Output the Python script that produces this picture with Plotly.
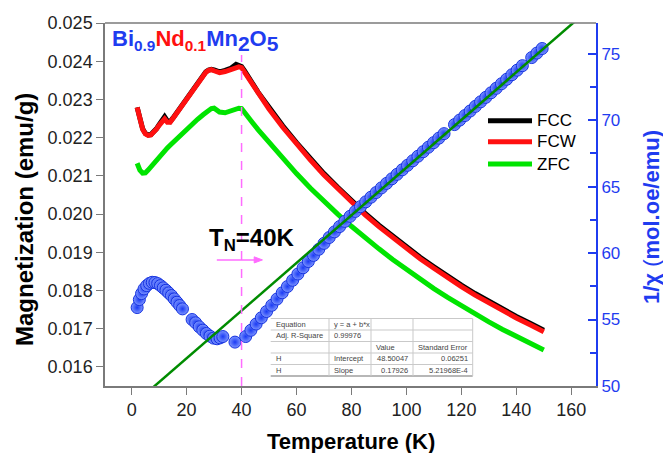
import plotly.graph_objects as go

# ---------------- data ----------------
# Magnetization vs temperature (emu/g)
temp_m = [2, 3, 4, 5, 6, 7, 8, 9, 10, 11, 12, 13, 14, 15, 16, 18, 20, 22, 24, 26, 27, 28, 29,
          30, 31, 32, 34, 36, 38, 39, 40, 41, 42, 44, 46, 48, 50, 55, 60, 65, 70, 75, 80, 85,
          90, 95, 100, 105, 110, 115, 120, 125, 130, 135, 140, 145, 150]

m_fcc = [0.02279, 0.02246, 0.02223, 0.02211, 0.02207, 0.02208, 0.02214, 0.02223, 0.02234,
         0.02245, 0.02255, 0.02244, 0.02242, 0.02251, 0.02261, 0.02278, 0.02299, 0.02321,
         0.02343, 0.02363, 0.02372, 0.02377, 0.02379, 0.02377, 0.02373, 0.02372, 0.02376,
         0.02381, 0.02392, 0.02390, 0.02386, 0.02376, 0.02364, 0.02341, 0.02319, 0.02299,
         0.02279, 0.02231, 0.02187, 0.02146, 0.02106, 0.02070, 0.02035, 0.02002, 0.01971,
         0.01942, 0.01914, 0.01887, 0.01862, 0.01837, 0.01814, 0.01792, 0.01771, 0.01751,
         0.01732, 0.01714, 0.01696]

m_fcw = [0.02279, 0.02245, 0.02222, 0.02210, 0.02206, 0.02207, 0.02213, 0.02222, 0.02232,
         0.02241, 0.02249, 0.02240, 0.02240, 0.02250, 0.02260, 0.02277, 0.02298, 0.02320,
         0.02342, 0.02362, 0.02371, 0.02376, 0.02378, 0.02375, 0.02371, 0.02370, 0.02373,
         0.02377, 0.02382, 0.02385, 0.02383, 0.02372, 0.02360, 0.02337, 0.02315, 0.02295,
         0.02275, 0.02227, 0.02183, 0.02142, 0.02102, 0.02066, 0.02031, 0.01998, 0.01967,
         0.01938, 0.01910, 0.01883, 0.01858, 0.01833, 0.01810, 0.01788, 0.01767, 0.01747,
         0.01728, 0.01710, 0.01692]

m_zfc = [0.02133, 0.02115, 0.02107, 0.02108, 0.02115, 0.02124, 0.02133, 0.02141, 0.02150,
         0.02158, 0.02166, 0.02173, 0.02180, 0.02187, 0.02194, 0.02210, 0.02224, 0.02236,
         0.02248, 0.02260, 0.02266, 0.02272, 0.02276, 0.02277, 0.02272, 0.02267, 0.02265,
         0.02270, 0.02275, 0.02277, 0.02276, 0.02268, 0.02258, 0.02239, 0.02221, 0.02204,
         0.02186, 0.02145, 0.02106, 0.02068, 0.02033, 0.02000, 0.01968, 0.01937, 0.01909,
         0.01881, 0.01855, 0.01829, 0.01805, 0.01782, 0.01760, 0.01738, 0.01718, 0.01698,
         0.01679, 0.01661, 0.01644]

# Inverse susceptibility 1/chi (mol.Oe/emu)
temp_inv = [2.0, 2.8, 3.6, 4.5, 5.5, 6.5, 7.5, 8.5, 9.5, 10.5, 11.5, 12.5, 13.5, 14.5, 15.5,
            16.5, 17.5, 18.5,
            22.0, 23.3, 24.6, 25.9, 27.2, 28.5, 29.8, 31.1, 32.2, 33.2,
            37.6,
            41.5, 43.4, 45.3, 47.2, 49.1, 51.0, 52.9, 54.8, 56.7, 58.6, 60.5, 62.4, 64.3,
            66.2, 68.1, 70.0, 71.9, 73.8, 75.7, 77.6, 79.5, 81.4, 83.3, 85.2, 87.1, 89.0,
            90.9, 92.8, 94.7, 96.6, 98.5, 100.4, 102.3, 104.2, 106.1, 108.0, 109.9, 111.8,
            113.7,
            117.5, 119.4, 121.3, 123.2, 125.1, 127.0, 128.9, 130.8, 132.7, 134.6, 136.5,
            138.4, 140.3, 142.2,
            145.6, 147.5, 149.4]

inv_chi = [55.90, 56.50, 56.95, 57.30, 57.55, 57.72, 57.80, 57.78, 57.70, 57.55, 57.38,
           57.20, 57.00, 56.80, 56.55, 56.30, 56.05, 55.80,
           55.00, 54.75, 54.45, 54.20, 53.95, 53.75, 53.60, 53.55, 53.62, 53.72,
           53.30,
           53.72, 54.19, 54.66, 55.13, 55.60, 56.07, 56.54, 57.01, 57.48, 57.95, 58.42,
           58.89, 59.36, 59.82, 60.28, 60.73, 61.17, 61.59, 61.99, 62.38, 62.76, 63.13,
           63.49, 63.85, 64.20, 64.55, 64.90, 65.24, 65.58, 65.92, 66.26, 66.60, 66.94,
           67.28, 67.62, 67.96, 68.30, 68.64, 68.98,
           69.66, 70.00, 70.34, 70.68, 71.03, 71.37, 71.71, 72.05, 72.39, 72.73, 73.07,
           73.41, 73.75, 74.09,
           74.70, 75.04, 75.38]

# Linear (Curie-Weiss) fit y = a + b*x
fit_intercept = 48.50047
fit_intercept_err = 0.06251
fit_slope = 0.17926
fit_slope_err = 5.21968e-4
fit_adj_r2 = 0.99976
fit_temp = [-10, 170]

t_neel = 40

x_ticks = [0, 20, 40, 60, 80, 100, 120, 140, 160]
y_ticks = [0.016, 0.017, 0.018, 0.019, 0.020, 0.021, 0.022, 0.023, 0.024, 0.025]
y2_ticks = [50, 55, 60, 65, 70, 75]

# ---------------- style ----------------
FONT = "Liberation Sans, Arial, sans-serif"
BLUE = "#1f3cf0"
RED = "#ff1010"
BLACK = "#000000"
LIME = "#00e400"
FIT_GREEN = "#008c00"
MAGENTA = "#ff6cff"
AXIS_GREY = "#7a7a7a"
TEXT = "#222222"

L, R, T, B = 105, 67, 23, 67
W, H = 663, 453
PW, PH = W - L - R, H - T - B


def px(x):
    return (x - L) / PW


def py(y):
    return (H - B - y) / PH


fig = go.Figure()

# magnetization curves
fig.add_trace(go.Scatter(x=temp_m, y=m_fcc, mode="lines", name="FCC",
                         line=dict(color=BLACK, width=5)))
fig.add_trace(go.Scatter(x=temp_m, y=m_fcw, mode="lines", name="FCW",
                         line=dict(color=RED, width=5)))
fig.add_trace(go.Scatter(x=temp_m, y=m_zfc, mode="lines", name="ZFC",
                         line=dict(color=LIME, width=5)))

# inverse susceptibility and its linear fit
fig.add_trace(go.Scatter(x=temp_inv, y=inv_chi, mode="markers", name="1/chi", yaxis="y2",
                         marker=dict(size=12, color="#7d95ff",
                                     gradient=dict(type="radial", color="#1a3af4"),
                                     line=dict(color="#1532e0", width=1))))
fit_vals = [fit_intercept + fit_slope * t for t in fit_temp]
fig.add_trace(go.Scatter(x=fit_temp, y=fit_vals, mode="lines", name="fit", yaxis="y2",
                         line=dict(color=FIT_GREEN, width=2.5)))

shapes = []
annotations = []

# top frame line
shapes.append(dict(type="line", xref="paper", yref="paper", x0=0, x1=1, y0=1, y1=1,
                   line=dict(color=AXIS_GREY, width=1.5)))

# Neel temperature marker: dashed line and arrow
shapes.append(dict(type="line", xref="x", yref="paper", x0=t_neel, x1=t_neel,
                   y0=0, y1=py(55), line=dict(color=MAGENTA, width=1.5, dash="dash"),
                   layer="above"))
arrow_y = 0.0188
shapes.append(dict(type="line", xref="x", yref="y", x0=t_neel - 9, x1=t_neel + 5.5,
                   y0=arrow_y, y1=arrow_y, line=dict(color=MAGENTA, width=1.5)))
shapes.append(dict(type="path", xref="x", yref="y",
                   path="M %.2f,%.6f L %.2f,%.6f L %.2f,%.6f Z" % (
                       t_neel + 4.6, arrow_y + 0.00008, t_neel + 7.6, arrow_y,
                       t_neel + 4.6, arrow_y - 0.00008),
                   fillcolor=MAGENTA, line=dict(color=MAGENTA, width=1)))
annotations.append(dict(x=px(207), y=py(240), xref="paper", yref="paper",
                        xanchor="left", yanchor="middle", showarrow=False,
                        text="<b>T<sub>N</sub>=40K</b>",
                        font=dict(family=FONT, size=24, color=BLACK)))

# compound formula
annotations.append(dict(
    x=px(110), y=py(40), xref="paper", yref="paper", xanchor="left", yanchor="middle",
    showarrow=False,
    text=("<b><span style='color:%s'>Bi<sub>0.9</sub></span>"
          "<span style='color:%s'>Nd<sub>0.1</sub></span>"
          "<span style='color:%s'>Mn<sub><span style='font-size:21px'>2</span></sub>"
          "O<sub><span style='font-size:21px'>5</span></sub></span></b>") % (BLUE, RED, BLUE),
    font=dict(family=FONT, size=22, color=BLUE)))

# legend
legend_items = [("FCC", BLACK, 120.7), ("FCW", RED, 141.7), ("ZFC", LIME, 164)]
for label, col, yy in legend_items:
    shapes.append(dict(type="line", xref="paper", yref="paper", x0=px(488), x1=px(532),
                       y0=py(yy), y1=py(yy), line=dict(color=col, width=5)))
    annotations.append(dict(x=px(535), y=py(yy), xref="paper", yref="paper",
                            xanchor="left", yanchor="middle", showarrow=False, text=label,
                            font=dict(family=FONT, size=17, color=BLACK)))

# fit results table
tx = [270.7, 329, 371, 413, 472.7]
ty = [318.5, 330, 341.5, 353, 364.5, 376]
shapes.append(dict(type="rect", xref="paper", yref="paper", x0=px(tx[0]), x1=px(tx[-1]),
                   y0=py(ty[-1]), y1=py(ty[0]), fillcolor="white",
                   line=dict(width=0), layer="above"))
for yy in ty[:-1]:
    shapes.append(dict(type="line", xref="paper", yref="paper", x0=px(tx[0]), x1=px(tx[-1]),
                       y0=py(yy), y1=py(yy), line=dict(color="#c9c9c9", width=1),
                       layer="above"))
shapes.append(dict(type="line", xref="paper", yref="paper", x0=px(tx[0]), x1=px(tx[-1]),
                   y0=py(ty[-1]), y1=py(ty[-1]), line=dict(color="#707070", width=1.2),
                   layer="above"))
for xx in tx[1:]:
    shapes.append(dict(type="line", xref="paper", yref="paper", x0=px(xx), x1=px(xx),
                       y0=py(ty[-1]), y1=py(ty[0]), line=dict(color="#c9c9c9", width=1),
                       layer="above"))

table_rows = [
    ["Equation", "y = a + b*x", "", ""],
    ["Adj. R-Square", "%.5f" % fit_adj_r2, "", ""],
    ["", "", "Value", "Standard Error"],
    ["H", "Intercept", "%.5f" % fit_intercept, "%.5f" % fit_intercept_err],
    ["H", "Slope", "%.5f" % fit_slope, "%.5E" % fit_slope_err],
]
for r, row in enumerate(table_rows):
    yc = py((ty[r] + ty[r + 1]) / 2)
    for c, cell in enumerate(row):
        if not cell:
            continue
        numeric = r >= 3 and c >= 2
        if numeric:
            xa, xpos = "right", tx[c + 1] - 3
        else:
            xa, xpos = "left", tx[c] + 3
        annotations.append(dict(x=px(xpos), y=yc, xref="paper", yref="paper",
                                xanchor=xa, yanchor="middle", showarrow=False,
                                text=cell.replace("E-04", "E-4"),
                                font=dict(family=FONT, size=7.5, color="#444444")))

# axis titles
annotations.append(dict(x=px(24), y=py(220), xref="paper", yref="paper", textangle=-90,
                        xanchor="center", yanchor="middle", showarrow=False,
                        text="<b>Magnetization (emu/g)</b>",
                        font=dict(family=FONT, size=24, color=BLACK)))
annotations.append(dict(x=px(651), y=py(217), xref="paper", yref="paper", textangle=-90,
                        xanchor="center", yanchor="middle", showarrow=False,
                        text="<b>1/χ</b> (<b>mol.oe/emu)</b>",
                        font=dict(family=FONT, size=22, color=BLUE)))
annotations.append(dict(x=px(351), y=py(441), xref="paper", yref="paper",
                        xanchor="center", yanchor="middle", showarrow=False,
                        text="<b>Temperature (K)</b>",
                        font=dict(family=FONT, size=22, color=BLACK)))

fig.update_layout(
    width=W, height=H,
    margin=dict(l=L, r=R, t=T, b=B),
    paper_bgcolor="white", plot_bgcolor="white",
    showlegend=False,
    font=dict(family=FONT, color=TEXT),
    xaxis=dict(range=[-9.7, 169], tickvals=x_ticks, ticks="outside", ticklen=7,
               tickwidth=1.2, tickcolor=AXIS_GREY, showline=True, linecolor=AXIS_GREY,
               linewidth=1.5, showgrid=False, zeroline=False,
               tickfont=dict(family=FONT, size=18, color=TEXT)),
    yaxis=dict(range=[0.0155, 0.025], tickvals=y_ticks, tickformat=".3f",
               ticks="outside", ticklen=7, tickwidth=1.2, tickcolor=AXIS_GREY,
               showline=True, linecolor=AXIS_GREY, linewidth=1.5, showgrid=False,
               zeroline=False, tickfont=dict(family=FONT, size=18, color=TEXT)),
    yaxis2=dict(overlaying="y", side="right", range=[50, 77.3], tickvals=y2_ticks,
                ticks="inside", ticklen=8, tickwidth=1.5, tickcolor=BLUE,
                minor=dict(dtick=2.5, ticks="inside", ticklen=6, tickwidth=1.5,
                           tickcolor=BLUE),
                showline=True, linecolor=BLUE, linewidth=2, showgrid=False,
                zeroline=False, tickfont=dict(family=FONT, size=17, color=BLUE)),
    shapes=shapes,
    annotations=annotations,
)

fig.write_html("out.html")
